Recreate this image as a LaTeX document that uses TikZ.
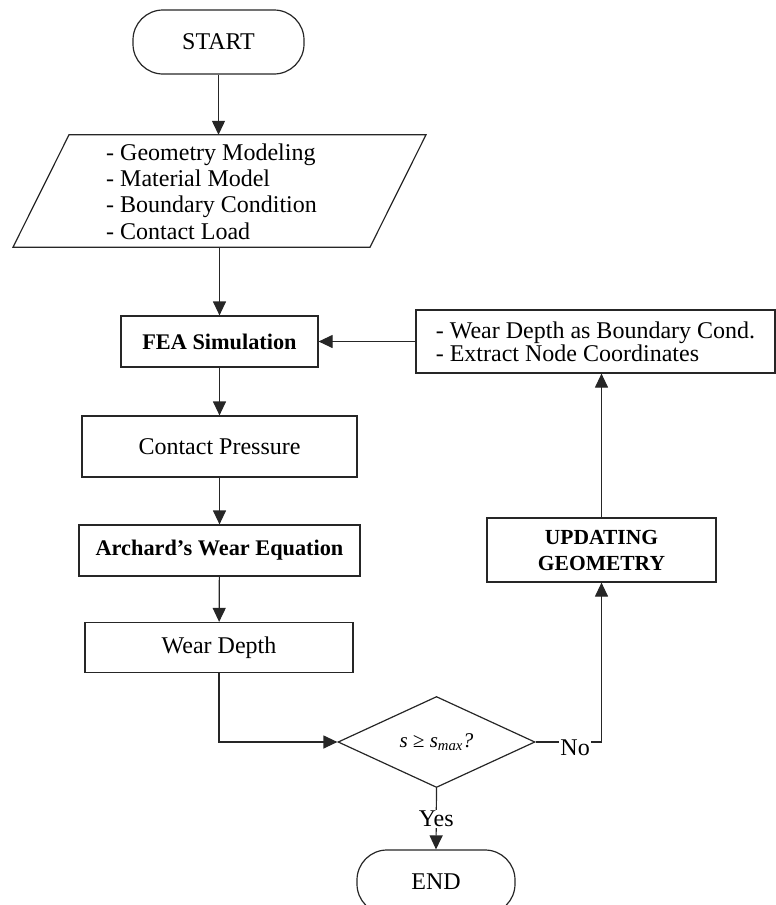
\documentclass[tikz,border=0pt]{standalone}
\usepackage{fontspec}
\setmainfont{Liberation Serif}
\usetikzlibrary{arrows.meta,shapes.geometric}
\begin{document}
\begin{tikzpicture}[x=1pt,y=-1pt,
  line/.style={draw=black!85, line width=1.2pt},
  boxnode/.style={line, rectangle, inner sep=0pt, align=center, font=\fontsize{24}{26}\selectfont},
  boldbox/.style={boxnode, font=\fontsize{22.3}{26}\selectfont\bfseries},
  term/.style={boxnode, rounded corners=30pt},
  arr/.style={line, -{Triangle[length=14pt,width=13pt]}},
  lbl/.style={fill=white, inner sep=1pt, font=\fontsize{24}{26}\selectfont}]
\useasboundingbox (0,0) rectangle (776,905);
% nodes
\node[term, minimum width=171pt, minimum height=64pt] (start) at (218.5,42) {START};
\node[inner sep=0pt, minimum width=357pt, minimum height=112pt] (input) at (219.5,191) {};
\draw[line] ([xshift=-150.5pt]input.north) -- ([xshift=206.5pt]input.north)
  -- ([xshift=150.5pt]input.south) -- ([xshift=-206.5pt]input.south) -- cycle;
\node[anchor=west, align=left, inner sep=0pt, font=\fontsize{24}{26.3}\selectfont] (inputtxt) at (106,191.5)
  {- Geometry Modeling\\- Material Model\\- Boundary Condition\\- Contact Load};
\node[boldbox, minimum width=197pt, minimum height=51pt] (fea) at (219.5,341.5) {FEA Simulation};
\node[boxnode, minimum width=275pt, minimum height=61pt] (press) at (219.5,446.5) {Contact Pressure};
\node[boldbox, minimum width=281pt, minimum height=51pt] (archard) at (219.5,550.5) {Archard’s Wear Equation};
\node[boxnode, minimum width=268pt, minimum height=50pt] (wdepth) at (219,647.5) {Wear Depth};
\node[line, diamond, aspect=2.16, inner sep=0pt, minimum width=197pt, minimum height=91pt,
  font=\fontsize{21}{24}\selectfont\itshape] (dec) at (436.5,742) {s ≥ s\textsubscript{max}?};
\node[term, minimum width=158pt, minimum height=64pt] (end) at (436,882) {END};
\node[boldbox, minimum width=229pt, minimum height=64pt, font=\fontsize{21.5}{26}\selectfont\bfseries] (update) at (601.5,550) {UPDATING\\GEOMETRY};
\node[boxnode, minimum width=359pt, minimum height=63pt, align=left, font=\fontsize{24}{23}\selectfont] (wcond) at (595.5,341.5)
  {- Wear Depth as Boundary Cond.\\- Extract Node Coordinates};
% connectors
\draw[arr] (start.south) -- (start.south |- input.north);
\draw[arr] (input.south) -- (fea.north);
\draw[arr] (fea) -- (press);
\draw[arr] (press) -- (archard);
\draw[arr] (archard) -- (wdepth);
\draw[arr] (wdepth.south) |- (dec.west);
\draw[arr] (dec.east) -| (update.south) node[pos=0.3, lbl, yshift=-6pt] {No};
\draw[arr] (update.north) -- (update.north |- wcond.south);
\draw[arr] (wcond.west) -- (fea.east);
\draw[arr] (dec.south) -- (end.north) node[midway, lbl] {Yes};
\end{tikzpicture}
\end{document}
